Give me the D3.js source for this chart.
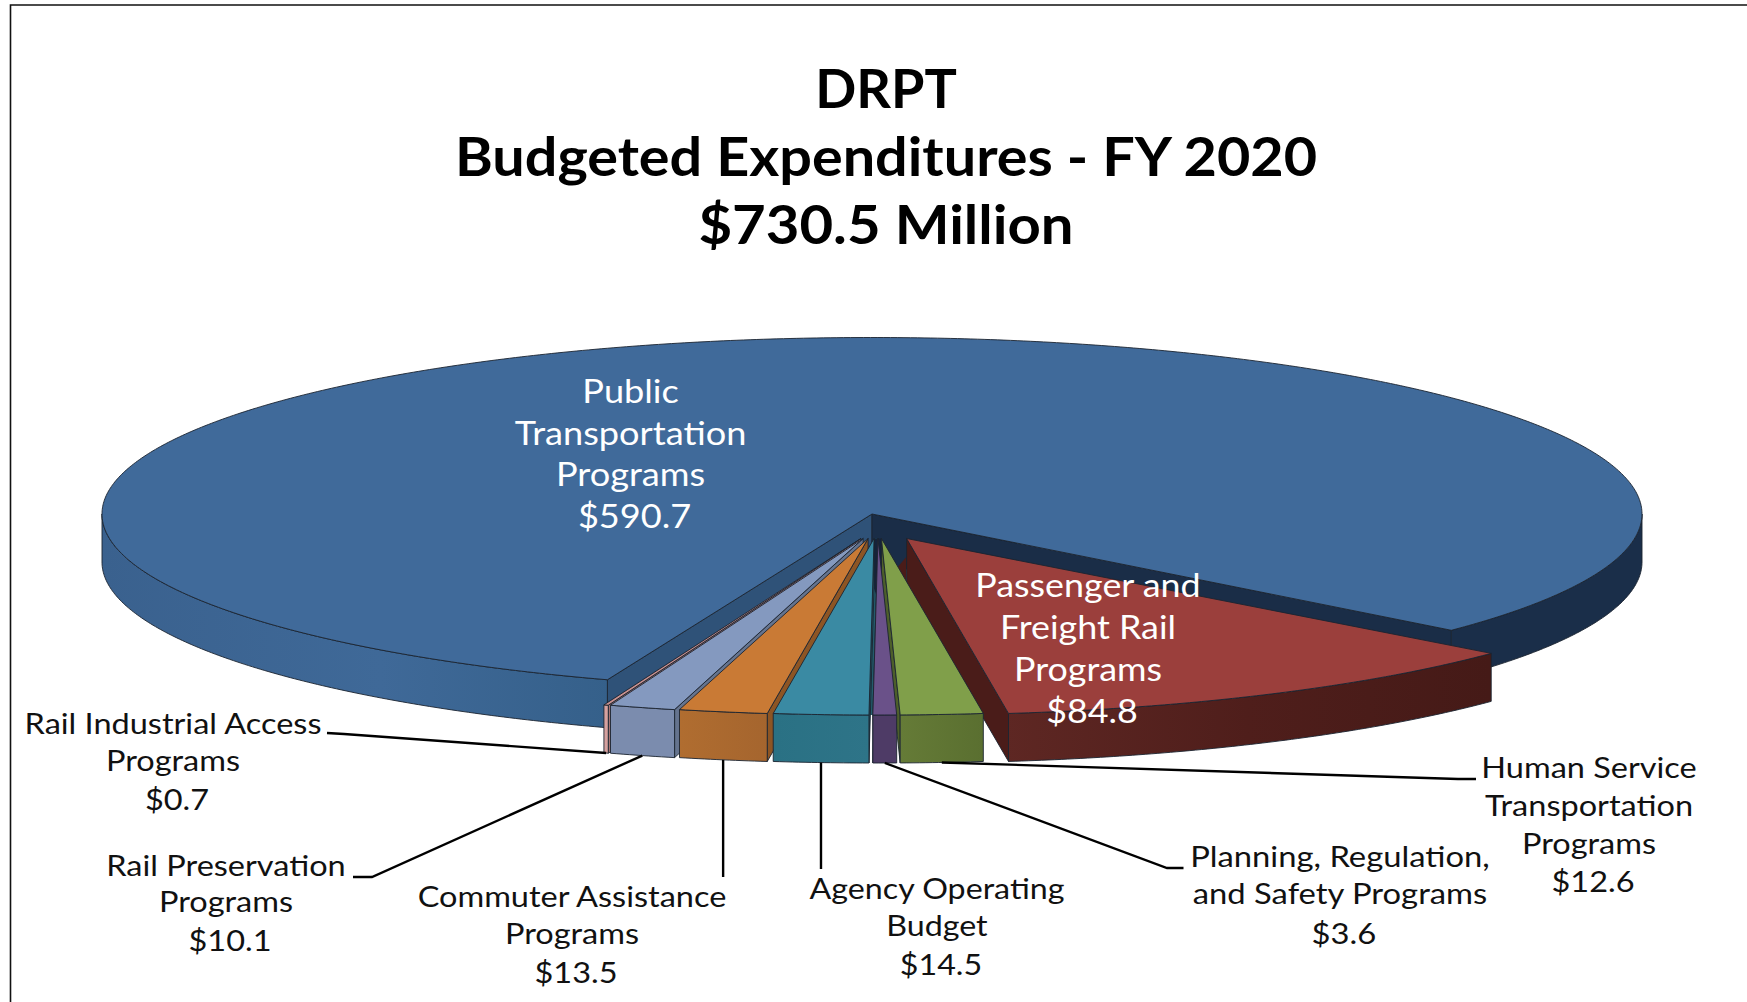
<!DOCTYPE html>
<html><head><meta charset="utf-8">
<script src="https://cdn.jsdelivr.net/npm/d3@7/dist/d3.min.js"></script>
<style>html,body{margin:0;padding:0;background:#fff;overflow:hidden}svg{display:block}text{font-family:Lato,"Noto Sans",sans-serif}</style>
</head><body><svg id="c" width="1747" height="1002"></svg>
<script>
const categories=["Public Transportation Programs","Passenger and Freight Rail Programs","Human Service Transportation Programs","Planning, Regulation, and Safety Programs","Agency Operating Budget","Commuter Assistance Programs","Rail Preservation Programs","Rail Industrial Access Programs"];
const values=[590.7,84.8,12.6,3.6,14.5,13.5,10.1,0.7];
const topColors=["#406a9a","#9b3f3c","#809f4a","#6a5189","#3a8aa3","#c97a35","#8499bf","#c9918f"];
const sideColors=["#3a6291","#4f1e1b","#5f7534","#4e3b66","#2b7083","#a9682f","#7b8cae","#d6a19f"];
const wallColors=["#2f5278","#4a1c19","#4d5f2a","#3d2e52","#235c6c","#8d5524","#65748f","#a87674"];
const labelLines=[["Public","Transportation","Programs"],["Passenger and","Freight Rail","Programs"],["Human Service","Transportation","Programs"],["Planning, Regulation,","and Safety Programs"],["Agency Operating","Budget"],["Commuter Assistance","Programs"],["Rail Preservation","Programs"],["Rail Industrial Access","Programs"]];
const titleLines=["DRPT","Budgeted Expenditures - FY 2020","$730.5 Million"];
const titleStretch=[1,1.065,1.075];

const svg=d3.select("#c");
const rad=Math.PI/180;
const CX=872,CY=514,RX=770,RY=176.5,DEPTH=48;
const sx=d3.scaleLinear([-1,1],[-RX,RX]), sy=d3.scaleLinear([-1,1],[-RY,RY]);
const pie=d3.pie().sort(null).value(d=>d).startAngle(200.1*rad).endAngle(560.1*rad);
const SHIFT=-0.6*rad;
const arcs=pie(values).map((a,i)=>i===0?a:{...a,startAngle:a.startAngle+SHIFT,endAngle:a.endAngle+SHIFT});
const ctr=arcs.map((a,i)=>{
  if(i===0) return {x:CX,y:CY};
  const m=(a.startAngle+a.endAngle)/2;
  return {x:CX+5.5+(i===1?61:50)*Math.sin(m),y:CY+24.5};
});
const px=(c,a,dz=0)=>[c.x+sx(Math.sin(a)),c.y+sy(-Math.cos(a))+dz];
const line=d3.line();
const arcPts=(c,a0,a1,dz=0)=>{const n=Math.max(2,Math.ceil(Math.abs(a1-a0)/(0.5*rad)));return d3.range(n+1).map(k=>px(c,a0+(a1-a0)*k/n,dz));};
const topPath=(c,a)=>line([[c.x,c.y],...arcPts(c,a.startAngle,a.endAngle)])+"Z";
const wallPath=(c,ang)=>line([[c.x,c.y],px(c,ang),px(c,ang,DEPTH),[c.x,c.y+DEPTH]])+"Z";
const sidePath=(c,a0,a1)=>line([...arcPts(c,a0,a1),...arcPts(c,a1,a0,DEPTH)])+"Z";

const defs=svg.append("defs");
function grad(id,x1,x2,stops){const g=defs.append("linearGradient").attr("id",id).attr("gradientUnits","userSpaceOnUse").attr("x1",x1).attr("x2",x2).attr("y1",0).attr("y2",0);
  stops.forEach(s=>g.append("stop").attr("offset",s[0]).attr("stop-color",s[1]));return `url(#${id})`;}
const blueFront=grad("bf",101,610,[[0,"#3a618e"],[.55,"#3f6998"],[1,"#35608a"]]);
const redFront=grad("rf",1005,1490,[[0,"#5e2723"],[.5,"#4f1e1b"],[1,"#451a17"]]);
const orangeFront=grad("of",680,768,[[0,"#b06d30"],[1,"#a5652e"]]);
const tealFront=grad("tf",774,870,[[0,"#2a7184"],[1,"#2e7488"]]);
const greenFront=grad("gf",900,984,[[0,"#657b37"],[1,"#5a6f30"]]);
const edge="#1b2430",ew=0.9;
const g=svg.append("g");
const draw=(d,fill)=>g.append("path").attr("d",d).attr("fill",fill).attr("stroke",edge).attr("stroke-width",ew).attr("stroke-linejoin","round");

// blue slice: cut walls, front walls, top
const b=arcs[0], c0=ctr[0];
draw(wallPath(c0,b.startAngle),wallColors[0]);
draw(wallPath(c0,b.endAngle),"#1a2d47");
draw(sidePath(c0,b.startAngle,270*rad),blueFront);
draw(sidePath(c0,90*rad,b.endAngle-360*rad),"#1a2e49");
draw(topPath(c0,b),topColors[0]);

// the teal slice's cut wall shows as a thin strip beside the purple slice
g.append("path").attr("d",line([[ctr[4].x,ctr[4].y],[ctr[3].x,ctr[3].y],px(ctr[3],arcs[3].endAngle),px(ctr[4],arcs[4].startAngle)])+"Z").attr("fill",wallColors[4]);
// dark shadow seen between the narrow slices where they meet near the centre
g.append("path").attr("d",line([[ctr[4].x,ctr[4].y],[ctr[2].x,ctr[2].y],[ctr[3].x+6,ctr[3].y+80],[ctr[4].x,ctr[3].y+50]])+"Z").attr("fill","#16233a");
// the red slice's cut wall runs back behind the green slice
const redC=ctr[1];
g.append("path").attr("d",line([[redC.x,redC.y+DEPTH],[redC.x-10,redC.y+DEPTH-18],[redC.x,redC.y+DEPTH-30]])+"Z").attr("fill",wallColors[1]);

// the exploded slices: right-hand group then left-hand group, walls toward the viewer
const frontFill={1:redFront,2:greenFront,4:tealFront,5:orangeFront};
const order=[1,2,3,7,6,5,4];
order.forEach(i=>{
  const a=arcs[i],c=ctr[i],m=(a.startAngle+a.endAngle)/2;
  const wallAng=(Math.sin(m)>0)?a.endAngle:a.startAngle;
  draw(wallPath(c,wallAng),wallColors[i]);
  draw(sidePath(c,a.startAngle,a.endAngle),frontFill[i]||sideColors[i]);
  draw(topPath(c,a),topColors[i]);
});

// frame
svg.append("path").attr("d","M10.5 1002V5H1747").attr("fill","none").attr("stroke","#111").attr("stroke-width",1.6);

// stretch each line horizontally, as the reference's glyphs are wider than the font's
function put(t,x,y,fs,fill,weight,stretch){
  const n=svg.append("text").attr("x",x).attr("y",y).attr("text-anchor","middle").attr("font-size",fs).attr("font-weight",weight).attr("fill",fill).text(t);
  const w=n.node().getComputedTextLength();
  n.attr("textLength",w*stretch).attr("lengthAdjust","spacingAndGlyphs");
}
titleLines.forEach((t,i)=>put(t,886,108+68*i,54,"#000",700,titleStretch[i]));

const FS=29;
const labelLayout=[
 {x:630.6,y:403,lh:41.6,fs:32,fill:"#fff",s:1.13},
 {x:1088,y:597,lh:42,fs:32,fill:"#fff",s:1.12},
 {x:1589,y:778,lh:38,fs:FS,fill:"#111",s:1.12,k1:0},
 {x:1340,y:867,lh:38.5,fs:FS,fill:"#111",s:1.13,k1:-1.5},
 {x:937,y:899,lh:38,fs:FS,fill:"#111",s:1.11,k1:-1.5},
 {x:572,y:907,lh:38,fs:FS,fill:"#111",s:1.12,k1:-1.5},
 {x:226,y:876,lh:37.5,fs:FS,fill:"#111",s:1.12,k1:-1.5},
 {x:173,y:734,lh:38,fs:FS,fill:"#111",s:1.12,k1:-1}];
labelLayout.forEach((l,i)=>{
  const lines=[...labelLines[i],"$"+values[i].toFixed(1)];
  lines.forEach((t,k)=>put(t,l.x+(k===lines.length-1?4:0),l.y+l.lh*k+(k===1?(l.k1||0):0),l.fs,l.fill,400,l.s));
});

// leaders: from the foot of each slice's outer wall to its label
const elbow={7:[[344,734],[327,733]],6:[[372,877],[353,877]],5:[[null,877]],4:[[null,869]],3:[[1167,868],[1183.5,868]],2:[[1458,779],[1476,779]]};
Object.keys(elbow).forEach(k=>{
  const i=+k,a=arcs[i],m=(a.startAngle+a.endAngle)/2;
  const p=px(ctr[i],m,DEPTH);
  const pts=elbow[k].map(q=>[q[0]===null?p[0]:q[0],q[1]]);
  svg.append("path").attr("d",line([p,...pts])).attr("fill","none").attr("stroke","#000").attr("stroke-width",2.4);
});
</script></body></html>
